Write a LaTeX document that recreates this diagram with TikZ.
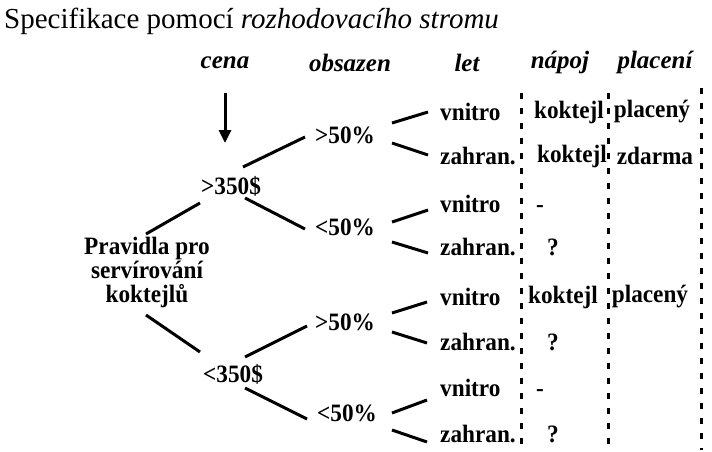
\documentclass[tikz,border=0pt]{standalone}
\usepackage{fontspec}
\setmainfont{Liberation Serif}
\newfontfamily\lblfont{Liberation Serif}[FakeStretch=0.93]
\usetikzlibrary{arrows.meta}
\begin{document}
\begin{tikzpicture}[x=1pt,y=-1pt,
  lbl/.style={font=\lblfont\fontsize{25}{24}\selectfont\bfseries, inner sep=0pt},
  hdr/.style={font=\fontsize{25}{26}\selectfont\bfseries\itshape, inner sep=0pt, anchor=base},
  branch/.style={line width=3pt},
  sepline/.style={line width=3pt, dash pattern=on 5.5pt off 9.5pt},
  arr/.style={line width=3pt, -{Triangle[width=12pt,length=13pt]}},
]
\useasboundingbox (0,0) rectangle (712,452);
% title
\node[anchor=base west, font=\fontsize{29}{31}\selectfont, inner sep=0pt] (title) at (4,29) {Specifikace pomocí \textit{rozhodovacího stromu}};
% headers
\node[hdr] (hcena) at (225,69) {cena};
\node[hdr] (hobs) at (350,72) {obsazen};
\node[hdr] (hlet) at (467,72) {let};
\node[hdr] (hnap) at (560,69) {nápoj};
\node[hdr] (hpla) at (655,69) {placení};
% tree nodes
\node[lbl, align=center] (root) at (147,272) {Pravidla pro\\servírování\\koktejlů};
\node[lbl] (gt350) at (231,186) {>350\$};
\node[lbl] (lt350) at (233,374) {<350\$};
\node[lbl] (o1) at (345,135) {>50\%};
\node[lbl] (u1) at (345,227) {<50\%};
\node[lbl] (o2) at (345,322) {>50\%};
\node[lbl] (u2) at (347,413) {<50\%};
% leaves
\node[lbl, anchor=west] (v1) at (440,112) {vnitro};
\node[lbl, anchor=west] (z1) at (440,156) {zahran.};
\node[lbl, anchor=west] (v2) at (440,204) {vnitro};
\node[lbl, anchor=west] (z2) at (440,247) {zahran.};
\node[lbl, anchor=west] (v3) at (440,297) {vnitro};
\node[lbl, anchor=west] (z3) at (440,342) {zahran.};
\node[lbl, anchor=west] (v4) at (440,388) {vnitro};
\node[lbl, anchor=west] (z4) at (440,434) {zahran.};
% napoj column
\node[lbl] (n1) at (569,112) {koktejl};
\node[lbl] (n2) at (572,156) {koktejl};
\node[lbl] (n3) at (540,209) {-};
\node[lbl] (n4) at (553,247) {?};
\node[lbl] (n5) at (563,297) {koktejl};
\node[lbl] (n6) at (553,342) {?};
\node[lbl] (n7) at (540,393) {-};
\node[lbl] (n8) at (553,434) {?};
% placeni column
\node[lbl] (p1) at (652,112) {placený};
\node[lbl] (p2) at (655,156) {zdarma};
\node[lbl] (p5) at (650,297) {placený};
% arrow
\coordinate (arrstart) at (225,93);
\draw[arr] (arrstart) -- ([shift={(-6,-43)}]gt350.center);
% branches
\draw[branch] ([shift={(-1,-38)}]root.center) -- ([shift={(-31,17)}]gt350.center);
\draw[branch] ([shift={(-1,43)}]root.center) -- ([shift={(-33,-22)}]lt350.center);
\draw[branch] ([shift={(12,-19)}]gt350.center) -- ([shift={(-40,2)}]o1.center);
\draw[branch] ([shift={(14,12)}]gt350.center) -- ([shift={(-40,2)}]u1.center);
\draw[branch] ([shift={(12,-17)}]lt350.center) -- ([shift={(-38,4)}]o2.center);
\draw[branch] ([shift={(12,14)}]lt350.center) -- ([shift={(-40,6)}]u2.center);
\draw[branch] ([shift={(47,-12)}]o1.center) -- ([shift={(-12,0)}]v1.west);
\draw[branch] ([shift={(47,8)}]o1.center) -- ([shift={(-12,-1)}]z1.west);
\draw[branch] ([shift={(47,-5)}]u1.center) -- ([shift={(-12,6)}]v2.west);
\draw[branch] ([shift={(47,15)}]u1.center) -- ([shift={(-12,6)}]z2.west);
\draw[branch] ([shift={(47,-9)}]o2.center) -- ([shift={(-13,5)}]v3.west);
\draw[branch] ([shift={(47,10)}]o2.center) -- ([shift={(-13,1)}]z3.west);
\draw[branch] ([shift={(45,0)}]u2.center) -- ([shift={(-13,12)}]v4.west);
\draw[branch] ([shift={(45,17)}]u2.center) -- ([shift={(-13,8)}]z4.west);
% separators
\coordinate (s1a) at (521,93); \coordinate (s1b) at (521,450);
\coordinate (s2a) at (608,93); \coordinate (s2b) at (608,450);
\coordinate (s3a) at (701,88); \coordinate (s3b) at (701,450);
\draw[sepline] (s1a) -- (s1b);
\draw[sepline] (s2a) -- (s2b);
\draw[sepline] (s3a) -- (s3b);
\end{tikzpicture}
\end{document}
